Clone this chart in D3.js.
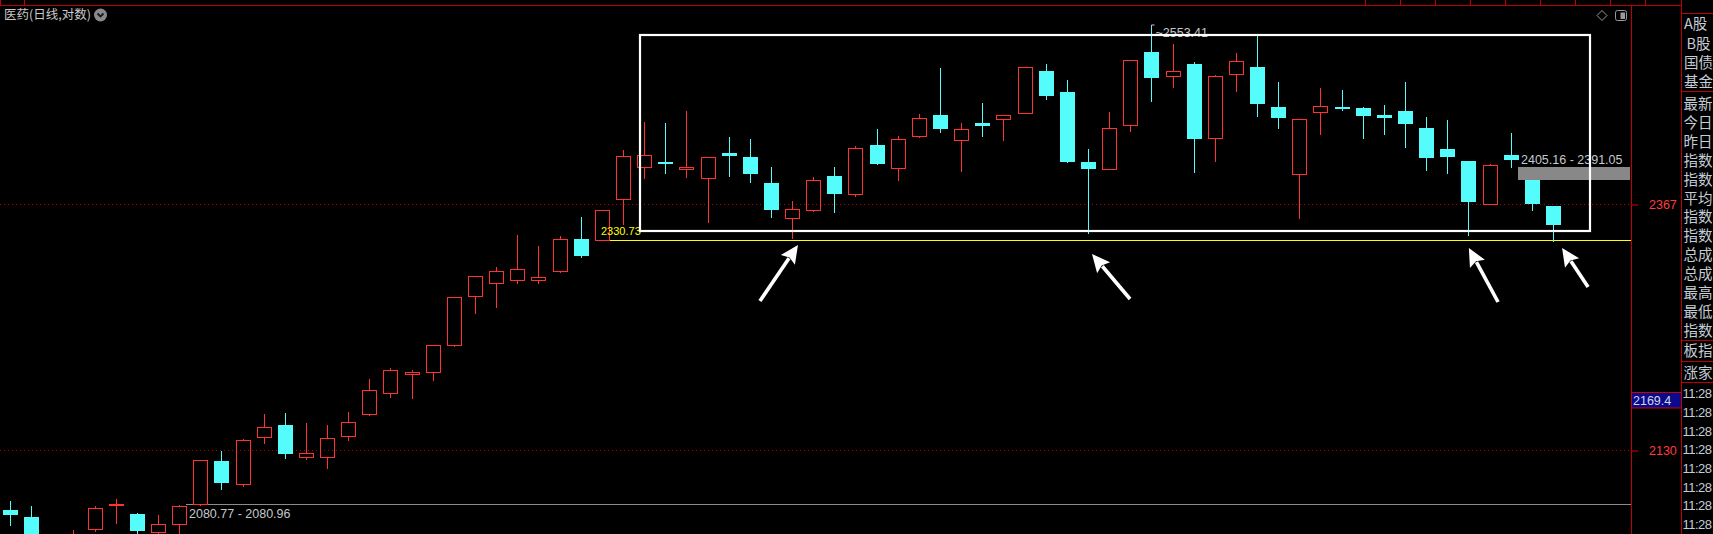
<!DOCTYPE html>
<html>
<head>
<meta charset="utf-8">
<script src="https://cdn.jsdelivr.net/npm/d3@7"></script>
<style>
html, body { margin: 0; padding: 0; background: #000; overflow: hidden; }
svg { display: block; }
</style>
</head>
<body>
<div id="chart"></div>
<script>
// daily candles, oldest first (医药 index, log scale)
var opens = [2075.83, 2069.61, 2044.89, 2036.14, 2058.71, 2080.02, 2072.28, 2056.07, 2063.11, 2080.96,
  2120.0, 2099.39, 2141.63, 2152.9, 2123.37, 2123.37, 2142.55, 2162.83, 2182.4, 2200.81,
  2202.14, 2227.8, 2275.13, 2287.87, 2290.81, 2290.81, 2299.66, 2331.76, 2330.73, 2371.78,
  2404.59, 2410.07, 2403.14, 2393.87, 2419.37, 2415.24, 2388.45, 2352.55, 2360.64, 2395.61,
  2376.89, 2427.7, 2403.56, 2436.79, 2459.16, 2432.61, 2450.71, 2454.62, 2460.96, 2505.98,
  2483.54, 2409.76, 2402.52, 2448.29, 2526.5, 2500.93, 2513.55, 2434.71, 2502.44, 2510.31,
  2467.61, 2397.35, 2462.01, 2467.61, 2466.55, 2459.16, 2463.38, 2445.46, 2423.52, 2411.1,
  2366.71, 2417.3, 2391.0, 2364.98];
var highs = [2083.84, 2079.39, 2049.29, 2058.09, 2079.39, 2085.36, 2073.17, 2071.39, 2080.28, 2121.0,
  2129.09, 2140.35, 2163.11, 2164.04, 2154.76, 2152.9, 2164.97, 2195.82, 2205.93, 2204.32,
  2228.0, 2274.4, 2294.9, 2303.92, 2335.76, 2324.75, 2334.76, 2353.86, 2360.9, 2422.16,
  2451.45, 2450.39, 2463.38, 2415.2, 2436.06, 2433.97, 2404.9, 2370.05, 2394.58, 2404.9,
  2426.65, 2444.42, 2437.11, 2460.22, 2509.23, 2450.71, 2471.83, 2459.1, 2510.2, 2513.55,
  2496.34, 2423.52, 2462.01, 2517.8, 2553.41, 2535.2, 2515.71, 2501.68, 2525.42, 2544.25,
  2494.21, 2454.9, 2487.81, 2485.67, 2467.61, 2469.4, 2494.21, 2457.05, 2453.88, 2411.4,
  2408.31, 2440.42, 2391.05, 2365.2];
var lows = [2062.49, 2040.49, 2026.56, 2031.78, 2057.21, 2064.0, 2055.45, 2055.01, 2052.81, 2080.77,
  2094.89, 2097.59, 2136.69, 2123.0, 2121.55, 2113.37, 2139.43, 2162.5, 2179.21, 2178.27,
  2195.17, 2227.6, 2259.19, 2265.01, 2288.45, 2288.45, 2299.4, 2314.12, 2330.5, 2347.09,
  2393.87, 2399.01, 2394.89, 2349.11, 2395.91, 2389.78, 2354.17, 2333.06, 2360.4, 2359.22,
  2375.46, 2408.0, 2391.82, 2435.74, 2441.6, 2401.07, 2437.42, 2433.24, 2460.7, 2475.75,
  2410.1, 2337.46, 2402.3, 2442.64, 2474.26, 2489.19, 2400.04, 2411.41, 2484.93, 2458.52,
  2445.78, 2353.16, 2439.51, 2464.12, 2435.32, 2439.51, 2425.92, 2402.11, 2399.01, 2335.46,
  2366.5, 2405.16, 2360.99, 2329.46];
var closes = [2071.65, 2044.89, 2031.78, 2051.93, 2077.35, 2081.17, 2057.47, 2063.38, 2079.39, 2120.64,
  2100.29, 2139.16, 2150.79, 2126.64, 2127.0, 2140.72, 2155.41, 2185.22, 2204.04, 2202.43,
  2227.8, 2274.15, 2294.73, 2299.66, 2301.64, 2293.75, 2331.46, 2314.81, 2360.64, 2415.96,
  2416.99, 2408.31, 2404.9, 2414.92, 2416.58, 2397.97, 2361.25, 2361.65, 2391.21, 2377.5,
  2424.25, 2408.31, 2433.66, 2455.99, 2444.73, 2444.11, 2447.87, 2458.84, 2509.99, 2479.59,
  2410.38, 2403.14, 2445.15, 2517.54, 2498.8, 2505.67, 2434.29, 2500.29, 2516.46, 2471.09,
  2456.31, 2454.62, 2468.35, 2465.81, 2458.42, 2456.31, 2449.97, 2414.51, 2415.55, 2369.34,
  2406.97, 2412.44, 2367.32, 2346.07];

var axisTicks = [2367, 2130];
var cursorPrice = 2169.4;

// drawn annotations, in (day index, price)
var lowLine = [8.33, 2080.77];          // start, price
var supportLine = [27.96, 2330.73];
var gapBand = [71.33, 2405.16, 2391.05]; // start, upper, lower
var rangeBox = [29.81, 74.75, 2545.34, 2339.27]; // from, to, top, bottom
var peakIdx = 54;
var arrowTips = [[37.28, 2325.75], [51.19, 2316.79], [69.02, 2322.75], [73.43, 2322.75]];
var arrowTails = [[35.48, 2270.53], [52.99, 2272.48], [70.40, 2269.56], [74.66, 2284.24]];

// right side panel texts (only the part inside the window)
var panelTop = ["A股", "B股", "国债", "基金"];
var panelMid = ["最新", "今日", "昨日", "指数", "指数", "平均", "指数", "指数", "总成", "总成", "最高", "最低", "指数"];
var panelBoard = ["板指"];
var panelBreadth = ["涨家"];
var tickTimes = ["11:28", "11:28", "11:28", "11:28", "11:28", "11:28", "11:28", "11:28"];

var days = opens.map(function(o, i) {
  return {i: i, open: o, high: highs[i], low: lows[i], close: closes[i]};
});

var W = 1713, H = 534;
var plotRight = 1631, panelLeft = 1681;
var RED = "#ff3232", CYAN = "#54fcfc", FRAME = "#c00000";
var NUM = "'Liberation Sans', Arial, sans-serif";
var CJK = "'Noto Sans CJK SC', sans-serif";

var svg = d3.select("#chart").append("svg")
  .attr("width", W)
  .attr("height", H)
  .style("background", "#000");

var x = d3.scaleLinear()
  .domain([0, days.length - 1])
  .range([10, 1553]);

var y = d3.scaleLog()
  .domain([2130, 2367])
  .range([450, 204]);

function px(i) { return Math.round(x(i)); }
function py(v) { return Math.round(y(v)); }

// dotted grid at axis ticks
svg.append("g").selectAll("line").data(axisTicks).enter().append("line")
  .attr("x1", 0).attr("x2", plotRight)
  .attr("y1", function(d) { return py(d) + 0.5; })
  .attr("y2", function(d) { return py(d) + 0.5; })
  .attr("stroke", "#b00000")
  .attr("stroke-dasharray", "1,3");

// low line + label
svg.append("line")
  .attr("x1", px(lowLine[0])).attr("x2", plotRight)
  .attr("y1", py(lowLine[1]) - 0.5).attr("y2", py(lowLine[1]) - 0.5)
  .attr("stroke", "#8c8c8c");
svg.append("text")
  .attr("x", px(lowLine[0]) + 3)
  .attr("y", py(lowLine[1]) + 9)
  .attr("dy", "0.35em")
  .attr("fill", "#c4c8cc")
  .style("font-family", NUM).style("font-size", "12.5px")
  .text("2080.77 - 2080.96");

// support line (yellow)
svg.append("line")
  .attr("x1", px(supportLine[0])).attr("x2", plotRight)
  .attr("y1", py(supportLine[1]) + 0.5).attr("y2", py(supportLine[1]) + 0.5)
  .attr("stroke", "#ffff00");

// candles
var k = svg.append("g").attr("shape-rendering", "crispEdges")
  .selectAll("g").data(days).enter().append("g");

k.append("line")
  .attr("x1", function(d) { return px(d.i) + 0.5; })
  .attr("x2", function(d) { return px(d.i) + 0.5; })
  .attr("y1", function(d) { return py(d.high); })
  .attr("y2", function(d) { return py(Math.max(d.open, d.close)); })
  .attr("stroke", function(d) { return d.close >= d.open ? RED : CYAN; });

k.append("line")
  .attr("x1", function(d) { return px(d.i) + 0.5; })
  .attr("x2", function(d) { return px(d.i) + 0.5; })
  .attr("y1", function(d) { return py(Math.min(d.open, d.close)); })
  .attr("y2", function(d) { return py(d.low) + 1; })
  .attr("stroke", function(d) { return d.close >= d.open ? RED : CYAN; });

k.append("rect")
  .attr("x", function(d) { return d.close >= d.open ? px(d.i) - 6.5 : px(d.i) - 7; })
  .attr("y", function(d) {
    var t = py(Math.max(d.open, d.close));
    return d.close >= d.open ? t + 0.5 : t;
  })
  .attr("width", function(d) { return d.close >= d.open ? 14 : 15; })
  .attr("height", function(d) {
    var h = py(Math.min(d.open, d.close)) - py(Math.max(d.open, d.close));
    return d.close >= d.open ? Math.max(1, h) : Math.max(2, h);
  })
  .attr("fill", function(d) { return d.close >= d.open ? "none" : CYAN; })
  .attr("stroke", function(d) { return d.close >= d.open ? RED : "none"; });

// gap band
svg.append("rect")
  .attr("x", px(gapBand[0]))
  .attr("y", py(gapBand[1]))
  .attr("width", plotRight - px(gapBand[0]) - 1)
  .attr("height", py(gapBand[2]) - py(gapBand[1]))
  .attr("fill", "#888888");
svg.append("text")
  .attr("x", px(gapBand[0]) + 3)
  .attr("y", py(gapBand[1]) - 7)
  .attr("dy", "0.35em")
  .attr("fill", "#c4c8cc")
  .style("font-family", NUM).style("font-size", "12.5px")
  .text("2405.16 - 2391.05");

// peak marker
var pkx = px(peakIdx) + 0.5, pky = py(highs[peakIdx]);
svg.append("path")
  .attr("d", "M" + pkx + "," + (pky + 1) + "V" + (pky - 2) + "H" + (pkx + 3))
  .attr("fill", "none").attr("stroke", "#c4c8cc");
svg.append("text")
  .attr("x", pkx + 4)
  .attr("y", pky + 6)
  .attr("dy", "0.35em")
  .attr("fill", "#c4c8cc")
  .style("font-family", NUM).style("font-size", "12.5px")
  .text("~" + highs[peakIdx].toFixed(2));

// support label
svg.append("text")
  .attr("x", px(supportLine[0]))
  .attr("y", py(supportLine[1]) - 9)
  .attr("dy", "0.35em")
  .attr("fill", "#ffff00")
  .style("font-family", NUM).style("font-size", "11px")
  .text(supportLine[1].toFixed(2));

// white range box
svg.append("rect")
  .attr("x", px(rangeBox[0]))
  .attr("y", py(rangeBox[2]))
  .attr("width", px(rangeBox[1]) - px(rangeBox[0]))
  .attr("height", py(rangeBox[3]) - py(rangeBox[2]))
  .attr("fill", "none")
  .attr("stroke", "#ffffff")
  .attr("stroke-width", 2.2);

// arrows
var arrowG = svg.append("g");
arrowTips.forEach(function(t, n) {
  var a = arrowTails[n];
  var x0 = x(a[0]), y0 = y(a[1]), x1 = x(t[0]), y1 = y(t[1]);
  var dx = x1 - x0, dy = y1 - y0, len = Math.sqrt(dx * dx + dy * dy);
  var ux = dx / len, uy = dy / len;
  var hl = 18, hw = 8.5;
  var bx = x1 - ux * hl, by = y1 - uy * hl;
  arrowG.append("line")
    .attr("x1", x0).attr("y1", y0)
    .attr("x2", bx + ux * 2).attr("y2", by + uy * 2)
    .attr("stroke", "#fff").attr("stroke-width", 3.6);
  arrowG.append("path")
    .attr("d", "M" + x1 + "," + y1 +
      "L" + (bx - uy * hw) + "," + (by + ux * hw) +
      "L" + (bx + ux * 3) + "," + (by + uy * 3) +
      "L" + (bx + uy * hw) + "," + (by - ux * hw) + "Z")
    .attr("fill", "#fff");
});

// frame lines
var frame = svg.append("g").attr("stroke", FRAME).attr("shape-rendering", "crispEdges");
frame.append("line").attr("x1", 0).attr("x2", panelLeft).attr("y1", 5.5).attr("y2", 5.5);
frame.append("line").attr("x1", plotRight + 0.5).attr("x2", plotRight + 0.5).attr("y1", 5).attr("y2", H);
frame.append("line").attr("x1", panelLeft + 0.5).attr("x2", panelLeft + 0.5).attr("y1", 0).attr("y2", H);
frame.append("line").attr("x1", 0.5).attr("x2", 0.5).attr("y1", 0).attr("y2", 5);
frame.append("line").attr("x1", 24.5).attr("x2", 24.5).attr("y1", 0).attr("y2", 5);
d3.range(9).forEach(function(n) {
  var tx = 1365.5 + n * 35;
  frame.append("line").attr("x1", tx).attr("x2", tx).attr("y1", 0).attr("y2", 5);
});
[13.5, 91.5, 340.5, 361.5, 382.5].forEach(function(yy) {
  frame.append("line").attr("x1", panelLeft).attr("x2", W).attr("y1", yy).attr("y2", yy);
});

// price axis
var axis = d3.axisRight(y)
  .tickValues(axisTicks)
  .tickSize(6)
  .tickPadding(11)
  .tickFormat(d3.format("d"));
svg.append("g")
  .attr("transform", "translate(" + (plotRight + 1) + ",0.5)")
  .call(axis)
  .call(function(g) { g.select(".domain").remove(); })
  .call(function(g) { g.selectAll(".tick line").attr("stroke", "#e00000"); })
  .call(function(g) {
    g.selectAll(".tick text").attr("fill", "#ff3c3c")
      .style("font-family", NUM).style("font-size", "12.5px");
  });

// cursor price box
var cy = py(cursorPrice);
svg.append("rect")
  .attr("x", plotRight + 0.5).attr("y", cy - 14.5)
  .attr("width", panelLeft - plotRight).attr("height", 15.5)
  .attr("fill", "#0a0a8c").attr("stroke", "#d00000");
svg.append("text")
  .attr("x", plotRight + 2).attr("y", cy - 6.5)
  .attr("dy", "0.35em")
  .attr("fill", "#d4d4e4")
  .style("font-family", NUM).style("font-size", "12.5px")
  .text(cursorPrice.toFixed(1));

// title
svg.append("text")
  .attr("x", 4).attr("y", 15).attr("dy", "0.35em")
  .attr("fill", "#c8c8c8")
  .style("font-family", CJK).style("font-size", "12.5px")
  .text("医药(日线,对数)");
svg.append("circle").attr("cx", 100.5).attr("cy", 15).attr("r", 6.5).attr("fill", "#8a8a8a");
svg.append("path").attr("d", "M97.5,13.5L100.5,16.5L103.5,13.5")
  .attr("fill", "none").attr("stroke", "#1a1a1a").attr("stroke-width", 1.8);

// top-right icons
svg.append("path").attr("d", "M1602,10.5L1607,15.5L1602,20.5L1597,15.5Z")
  .attr("fill", "none").attr("stroke", "#9a9a9a");
svg.append("rect").attr("x", 1615.5).attr("y", 10.5).attr("width", 11).attr("height", 10).attr("rx", 2)
  .attr("fill", "none").attr("stroke", "#9a9a9a");
svg.append("rect").attr("x", 1620.5).attr("y", 12.5).attr("width", 4.5).attr("height", 6.5)
  .attr("fill", "#9a9a9a");

// side panel
var panel = svg.append("g")
  .attr("fill", "#c4ccd6")
  .style("font-family", CJK).style("font-size", "14.5px");
panelTop.forEach(function(t, n) {
  panel.append("text").attr("x", n == 1 ? 1686.5 : 1684).attr("y", 24 + n * 19.3).attr("dy", "0.36em").text(t);
});
panelMid.forEach(function(t, n) {
  panel.append("text").attr("x", 1683.5).attr("y", 104 + n * 18.86).attr("dy", "0.36em").text(t);
});
panelBoard.forEach(function(t) {
  panel.append("text").attr("x", 1683.5).attr("y", 351).attr("dy", "0.36em").text(t);
});
panelBreadth.forEach(function(t) {
  panel.append("text").attr("x", 1683.5).attr("y", 372.5).attr("dy", "0.36em").text(t);
});
tickTimes.forEach(function(t, n) {
  panel.append("text").attr("x", 1682.5).attr("y", 393.5 + n * 18.7).attr("dy", "0.36em")
    .style("font-family", NUM).style("font-size", "13px").style("letter-spacing", "-0.5px").text(t);
});
</script>
</body>
</html>
